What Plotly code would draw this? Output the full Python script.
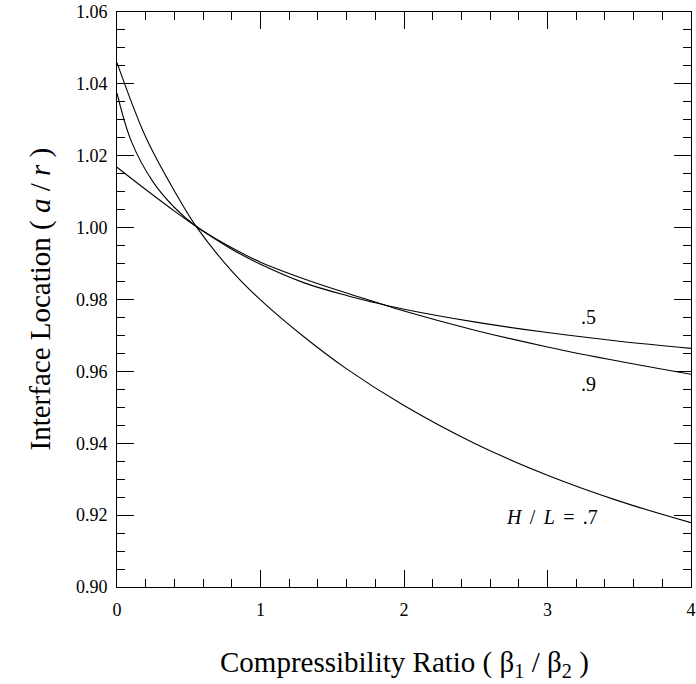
import plotly.graph_objects as go

# H/L = .7
x_07 = [0, 0.2, 0.4, 0.55, 0.8, 1.0, 1.3, 1.6, 2.0, 2.5, 3.0, 3.5, 4.0]
y_07 = [1.0459, 1.0252, 1.0102, 1.0004, 0.9879, 0.9799, 0.9697, 0.9607, 0.9505, 0.9398, 0.9311, 0.9239, 0.9179]

# H/L = .9
x_09 = [0, 0.1, 0.25, 0.4, 0.55, 0.8, 1.0, 1.3, 1.6, 1.8, 2.0, 2.5, 3.0, 3.5, 4.0]
y_09 = [1.0374, 1.0240, 1.0128, 1.0056, 1.0004, 0.9944, 0.9904, 0.9858, 0.9818, 0.9793, 0.9768, 0.9714, 0.9668, 0.9628, 0.9592]

# H/L = .5
x_05 = [0, 0.2, 0.4, 0.55, 0.8, 1.0, 1.3, 1.6, 1.8, 2.0, 2.5, 3.0, 3.5, 4.0]
y_05 = [1.0168, 1.0106, 1.0046, 1.0004, 0.9940, 0.9898, 0.9847, 0.9811, 0.9791, 0.9773, 0.9737, 0.9708, 0.9684, 0.9664]

label_text = [".5", ".9", "<i>H</i>\u2006 / \u2006<i>L</i>\u2006 = \u2006.7"]
label_x = [3.285, 3.289, 3.029]
label_y = [0.9750, 0.9564, 0.9196]

x_ticks = [0, 1, 2, 3, 4]
y_ticks = [0.90, 0.92, 0.94, 0.96, 0.98, 1.00, 1.02, 1.04, 1.06]

FONT = "Liberation Serif"

fig = go.Figure()
for xs, ys in [(x_07, y_07), (x_09, y_09), (x_05, y_05)]:
    fig.add_trace(go.Scatter(x=xs, y=ys, mode="lines",
                             line=dict(color="black", width=1.1, shape="spline", smoothing=1.0),
                             showlegend=False, hoverinfo="skip"))

for t, xx, yy in zip(label_text, label_x, label_y):
    fig.add_annotation(x=xx, y=yy, text=t, showarrow=False, xref="x", yref="y",
                       xanchor="center", yanchor="middle",
                       font=dict(family=FONT, size=20, color="black"))

fig.add_annotation(x=(40 - 117) / 574, y=0.5, xref="paper", yref="paper",
                   text="Interface Location ( <i>a</i> / <i>r</i> )", textangle=-90,
                   showarrow=False, xanchor="center", yanchor="middle",
                   font=dict(family=FONT, size=29, color="black"))
fig.add_annotation(x=0.5, y=(587 - 664) / 575, xref="paper", yref="paper",
                   text="Compressibility Ratio ( β<sub>1</sub> / β<sub>2</sub> )",
                   showarrow=False, xanchor="center", yanchor="middle",
                   font=dict(family=FONT, size=29, color="black"))

axis_common = dict(ticks="inside", ticklen=17, tickwidth=1, tickcolor="black",
                   showline=True, linecolor="black", linewidth=1, mirror="allticks",
                   showgrid=False, zeroline=False,
                   tickfont=dict(family=FONT, size=18, color="black"))

fig.update_xaxes(range=[0, 4], tickmode="array", tickvals=x_ticks,
                 ticktext=[str(v) for v in x_ticks],
                 minor=dict(dtick=0.2, ticks="inside", ticklen=8, tickcolor="black", tickwidth=1, showgrid=False),
                 ticklabelstandoff=6, **axis_common)
fig.update_yaxes(range=[0.90, 1.06], tickmode="array", tickvals=y_ticks,
                 ticktext=[f"{v:.2f}" for v in y_ticks],
                 minor=dict(dtick=0.005, ticks="inside", ticklen=8, tickcolor="black", tickwidth=1, showgrid=False),
                 ticklabelstandoff=5, **axis_common)

fig.update_layout(width=696, height=684, margin=dict(l=117, r=5, t=12, b=97, autoexpand=False),
                  plot_bgcolor="white", paper_bgcolor="white",
                  font=dict(family=FONT, color="black"))

fig.write_html("out.html")
